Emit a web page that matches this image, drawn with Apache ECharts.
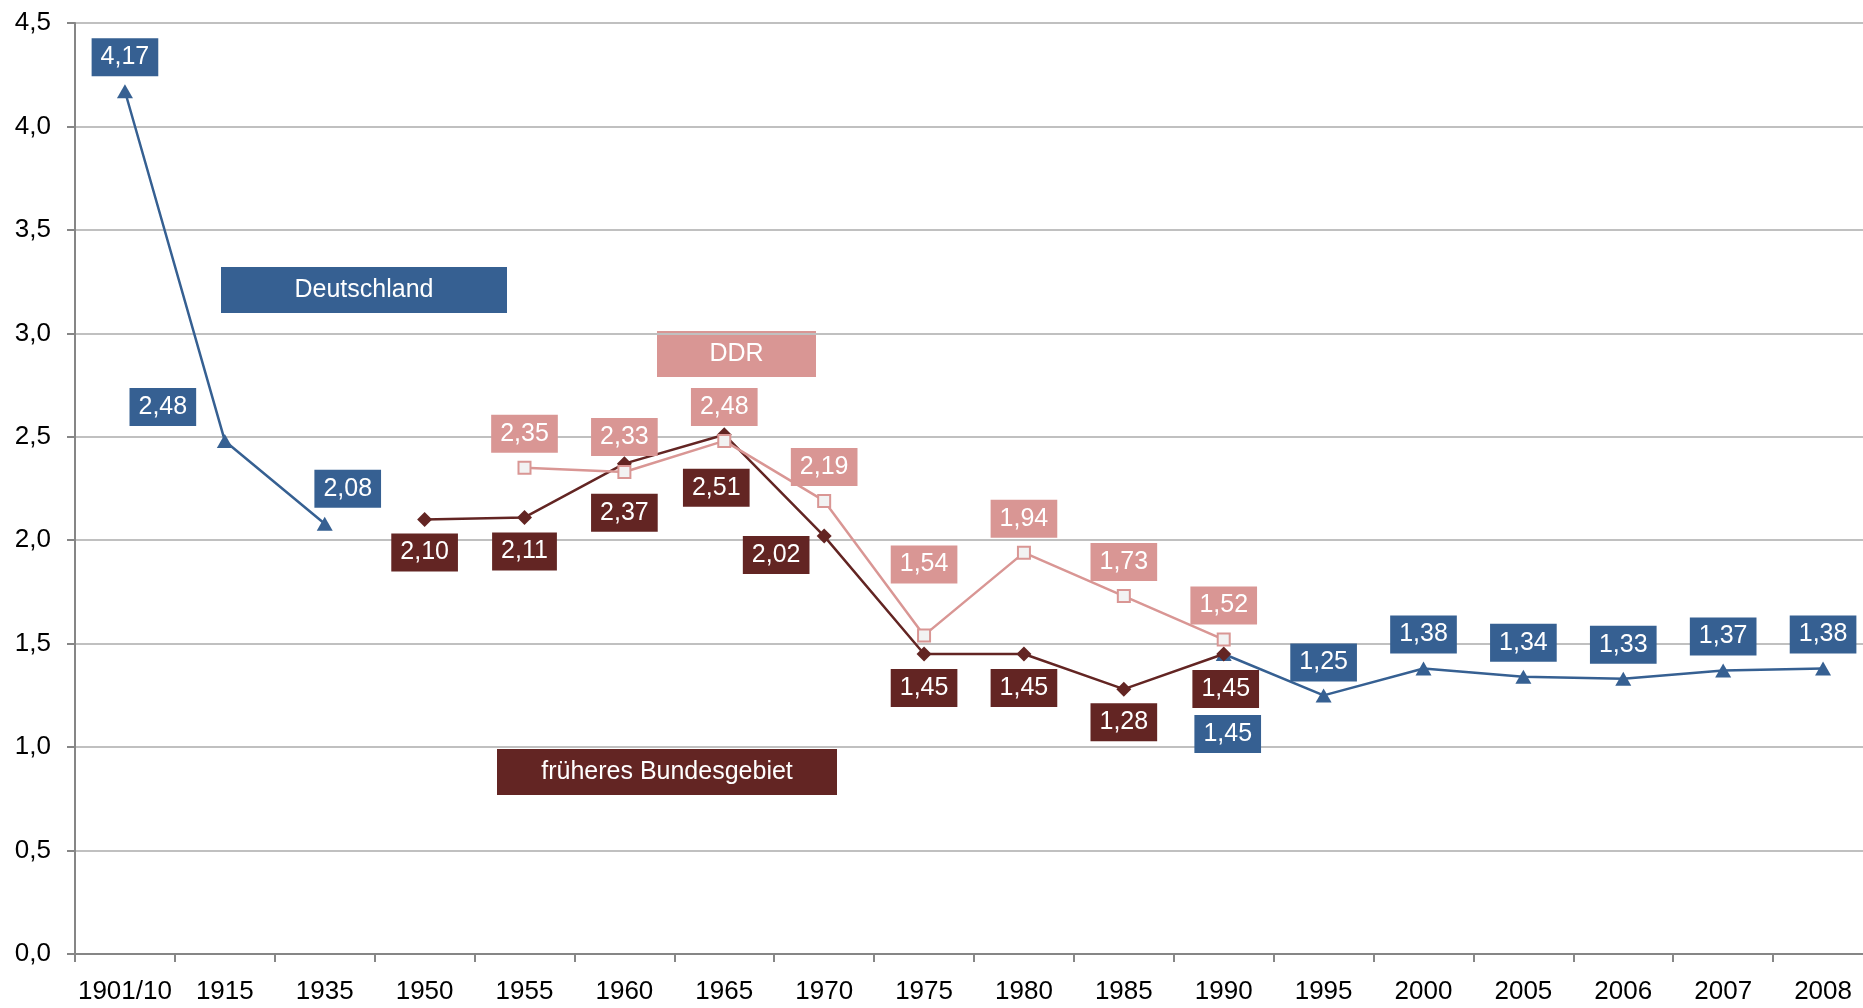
<!DOCTYPE html>
<html>
<head>
<meta charset="utf-8">
<script src="https://cdn.jsdelivr.net/npm/echarts@6/dist/echarts.min.js"></script>
<style>
html,body{margin:0;padding:0;background:#fff;overflow:hidden;}
#chart{width:1873px;height:1008px;}
</style>
</head>
<body>
<div id="chart"></div>
<script>
// ---- data ----
const categories = ['1901/10','1915','1935','1950','1955','1960','1965','1970','1975','1980','1985','1990','1995','2000','2005','2006','2007','2008'];
const deutschland = [4.17, 2.48, 2.08, null, null, null, null, null, null, null, null, 1.45, 1.25, 1.38, 1.34, 1.33, 1.37, 1.38];
const bundesgebiet = [null, null, null, 2.10, 2.11, 2.37, 2.51, 2.02, 1.45, 1.45, 1.28, 1.45, null, null, null, null, null, null];
const ddr = [null, null, null, null, 2.35, 2.33, 2.48, 2.19, 1.54, 1.94, 1.73, 1.52, null, null, null, null, null, null];
const yTicks = [0, 0.5, 1, 1.5, 2, 2.5, 3, 3.5, 4, 4.5];

// ---- label placement (offset of label centre from point, px) ----
const offDeutschland = [[0,-34],[-62,-34],[23,-35],null,null,null,null,null,null,null,null,[4,80],[0,-33],[0,-34],[0,-34],[0,-34],[0,-34],[0,-34]];
const offBundes = [null,null,null,[0,33],[0,34],[0,49],[-8,53],[-48,19],[0,34],[0,34],[0,33],[2,35],null,null,null,null,null,null];
const offDDR = [null,null,null,null,[0,-34],[0,-35],[0,-34],[0,-34],[0,-71],[0,-34],[0,-34],[0,-34],null,null,null,null,null,null];

const BLUE = '#366092', DARK = '#632523', PINK = '#D99694';
const FONT = '"Liberation Sans", Arial, sans-serif';
const fmt2 = v => v.toFixed(2).replace('.', ',');

function items(vals, offs) {
  return vals.map((v, i) => v == null ? null : {
    value: v,
    label: { offset: offs[i] || [0, 0] }
  });
}
function labelStyle(bg) {
  return {
    show: true, position: 'inside',
    formatter: p => fmt2(p.value),
    color: '#fff', fontSize: 25, fontFamily: FONT, lineHeight: 25,
    backgroundColor: bg, padding: [7, 9, 6, 9]
  };
}

const chart = echarts.init(document.getElementById('chart'), null, {renderer: 'canvas'});
chart.setOption({
  animation: false,
  backgroundColor: '#ffffff',
  grid: { left: 75, top: 23, right: 0, bottom: 54, containLabel: false },
  xAxis: {
    type: 'category', data: categories, boundaryGap: true,
    axisLine: { lineStyle: { color: '#868686', width: 2 } },
    axisTick: { show: true, interval: 0, length: 8, lineStyle: { color: '#868686', width: 2 } },
    axisLabel: { interval: 0, color: '#000', fontSize: 26, fontFamily: FONT, margin: 25 }
  },
  yAxis: {
    type: 'value', min: yTicks[0], max: yTicks[yTicks.length - 1], interval: 0.5,
    axisLine: { show: true, lineStyle: { color: '#868686', width: 2 } },
    axisTick: { show: true, length: 8, lineStyle: { color: '#868686', width: 2 } },
    axisLabel: { color: '#000', fontSize: 26, fontFamily: FONT, margin: 24,
      formatter: v => v.toFixed(1).replace('.', ',') },
    splitLine: { lineStyle: { color: '#c0c0c0', width: 2 } }
  },
  series: [
    {
      name: 'Deutschland', type: 'line', data: items(deutschland, offDeutschland),
      connectNulls: false, symbol: 'triangle', symbolSize: [16, 14],
      lineStyle: { color: BLUE, width: 2.5 }, itemStyle: { color: BLUE },
      label: labelStyle(BLUE), z: 2
    },
    {
      name: 'früheres Bundesgebiet', type: 'line', data: items(bundesgebiet, offBundes),
      symbol: 'diamond', symbolSize: [15, 15],
      lineStyle: { color: DARK, width: 2.5 }, itemStyle: { color: DARK },
      label: labelStyle(DARK), z: 3
    },
    {
      name: 'DDR', type: 'line', data: items(ddr, offDDR),
      symbol: 'rect', symbolSize: 12,
      lineStyle: { color: PINK, width: 2.5 },
      itemStyle: { color: '#f2f2f2', borderColor: PINK, borderWidth: 2 },
      label: labelStyle(PINK), z: 4
    }
  ],
  graphic: [
    { type: 'rect', left: 221, top: 267, shape: { width: 286, height: 46 }, style: { fill: BLUE },
      textContent: { style: { text: 'Deutschland', fill: '#fff', font: '25px ' + FONT } }, textConfig: { position: 'inside' } },
    { type: 'rect', left: 657, top: 331, shape: { width: 159, height: 46 }, style: { fill: PINK },
      textContent: { style: { text: 'DDR', fill: '#fff', font: '25px ' + FONT } }, textConfig: { position: 'inside' } },
    { type: 'rect', left: 497, top: 749, shape: { width: 340, height: 46 }, style: { fill: DARK },
      textContent: { style: { text: 'früheres Bundesgebiet', fill: '#fff', font: '25px ' + FONT } }, textConfig: { position: 'inside' } }
  ]
});
</script>
</body>
</html>
